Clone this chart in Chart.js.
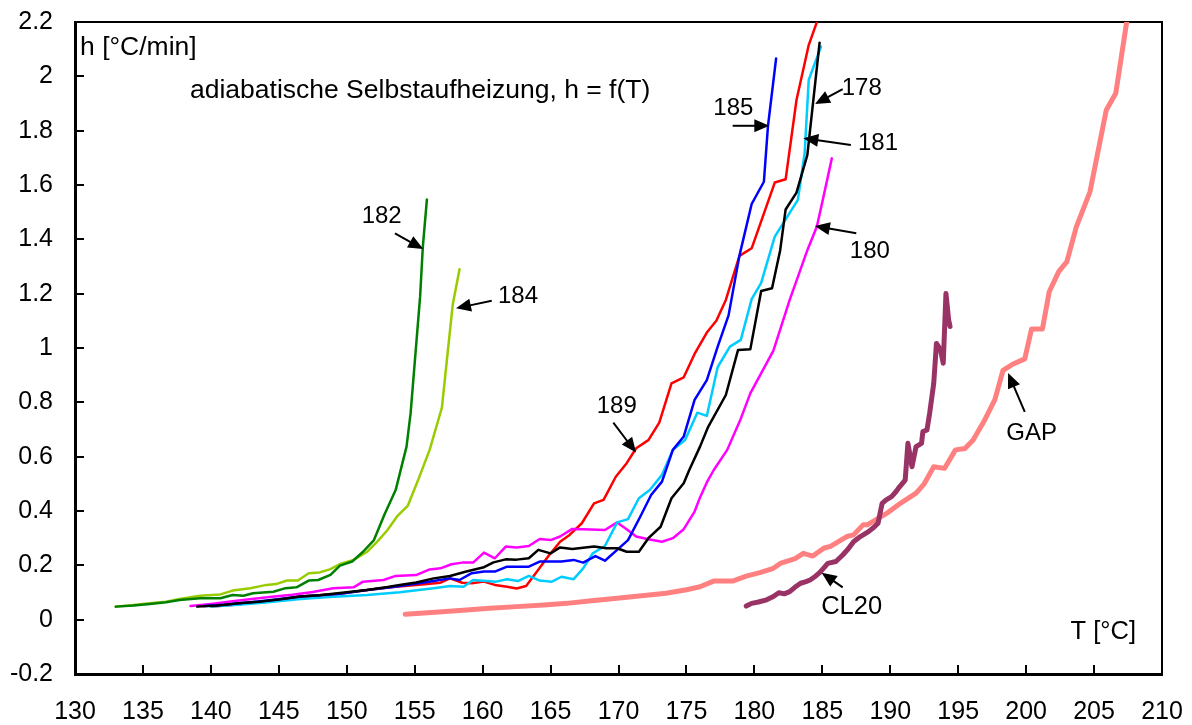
<!DOCTYPE html>
<html>
<head>
<meta charset="utf-8">
<script src="https://cdn.jsdelivr.net/npm/chart.js@4.4.1/dist/chart.umd.min.js"></script>
<style>
  html, body { margin: 0; padding: 0; background: #ffffff; }
  #wrap { width: 1192px; height: 725px; }
</style>
</head>
<body>
<div id="wrap"><canvas id="c" width="1192" height="725"></canvas></div>
<script>
// Axis ticks
const xTicks = [130, 135, 140, 145, 150, 155, 160, 165, 170, 175, 180, 185, 190, 195, 200, 205, 210];
const xTickLabels = ['130', '135', '140', '145', '150', '155', '160', '165', '170', '175', '180', '185', '190', '195', '200', '205', '210'];
const yTicks = [-0.2, 0, 0.2, 0.4, 0.6, 0.8, 1, 1.2, 1.4, 1.6, 1.8, 2, 2.2];
const yTickLabels = ['-0.2', '0', '0.2', '0.4', '0.6', '0.8', '1', '1.2', '1.4', '1.6', '1.8', '2', '2.2'];

// Heating rate h [°C/min] against temperature T [°C], one pair of arrays per sample
const t182 = [133.0, 134.3, 135.5, 136.7, 137.7, 139.2, 140.7, 141.6, 142.4, 143.1, 144.6, 145.5, 146.3, 147.2, 147.9, 148.8, 149.5, 150.4, 151.2, 152.0, 152.8, 153.6, 154.4, 154.7, 155.0, 155.4, 155.6, 155.9];
const h182 = [0.048, 0.052, 0.058, 0.064, 0.072, 0.079, 0.079, 0.091, 0.088, 0.097, 0.103, 0.116, 0.119, 0.144, 0.146, 0.165, 0.199, 0.214, 0.25, 0.293, 0.39, 0.477, 0.637, 0.76, 0.944, 1.19, 1.373, 1.547];

const t184 = [133.0, 134.3, 135.5, 136.7, 137.7, 139.2, 140.7, 141.6, 142.9, 144.1, 144.8, 145.6, 146.4, 147.2, 148.0, 148.8, 149.5, 150.5, 151.5, 152.3, 153.0, 153.7, 154.5, 155.3, 156.1, 157.0, 157.4, 157.8, 158.3];
const h184 = [0.048, 0.054, 0.06, 0.066, 0.076, 0.088, 0.093, 0.107, 0.116, 0.128, 0.131, 0.144, 0.144, 0.171, 0.174, 0.186, 0.205, 0.22, 0.25, 0.29, 0.33, 0.38, 0.42, 0.52, 0.625, 0.78, 0.97, 1.16, 1.29];

const t178 = [139.0, 140.5, 142.0, 143.5, 145.0, 146.6, 148.0, 149.5, 151.5, 153.0, 153.9, 155.1, 156.4, 157.6, 158.8, 160.1, 160.8, 161.7, 162.5, 163.4, 164.1, 165.0, 165.7, 166.6, 168.2, 169.1, 169.9, 170.6, 171.5, 172.2, 173.1, 173.9, 174.8, 175.2, 176.0, 176.6, 177.9, 178.8, 179.7, 180.5, 181.3, 181.9, 182.3, 183.1, 183.9, 184.8];
const h178 = [0.048, 0.052, 0.06, 0.066, 0.074, 0.085, 0.09, 0.098, 0.109, 0.12, 0.128, 0.137, 0.152, 0.161, 0.177, 0.193, 0.211, 0.222, 0.221, 0.226, 0.257, 0.244, 0.266, 0.26, 0.269, 0.263, 0.263, 0.25, 0.25, 0.30, 0.342, 0.447, 0.502, 0.55, 0.637, 0.71, 0.827, 0.993, 0.995, 1.21, 1.22, 1.36, 1.51, 1.572, 1.711, 2.124];

const t185 = [139.5, 141.0, 142.5, 144.0, 146.6, 148.0, 149.5, 151.5, 153.4, 154.8, 156.4, 157.6, 158.3, 159.2, 160.1, 160.9, 161.8, 163.4, 164.2, 165.8, 166.7, 167.4, 168.3, 169.0, 169.9, 170.7, 171.6, 172.4, 173.2, 174.0, 174.8, 175.6, 176.5, 177.3, 178.1, 178.9, 179.8, 180.7, 181.0, 181.6];
const h185 = [0.05, 0.055, 0.062, 0.07, 0.085, 0.09, 0.095, 0.109, 0.12, 0.13, 0.142, 0.152, 0.146, 0.171, 0.177, 0.177, 0.195, 0.195, 0.214, 0.214, 0.22, 0.21, 0.234, 0.217, 0.257, 0.293, 0.379, 0.459, 0.508, 0.625, 0.674, 0.809, 0.882, 1.005, 1.12, 1.34, 1.53, 1.612, 1.817, 2.066];

const t181 = [140.0, 142.0, 144.0, 146.6, 149.0, 151.5, 153.9, 156.4, 157.6, 158.6, 159.3, 161.0, 161.8, 162.6, 163.4, 164.2, 165.1, 165.8, 166.7, 167.4, 168.1, 169.0, 169.9, 170.7, 171.5, 172.3, 173.2, 174.0, 174.9, 175.8, 176.5, 177.3, 178.2, 179.0, 179.8, 180.5, 181.5, 183.2, 183.7, 184.0, 184.9];
const h181 = [0.048, 0.055, 0.063, 0.076, 0.084, 0.091, 0.101, 0.116, 0.124, 0.121, 0.146, 0.14, 0.149, 0.142, 0.161, 0.144, 0.14, 0.158, 0.149, 0.189, 0.244, 0.271, 0.358, 0.37, 0.447, 0.477, 0.533, 0.625, 0.661, 0.762, 0.75, 0.93, 1.005, 1.03, 1.18, 1.24, 1.41, 1.545, 1.717, 1.987, 2.109];

const t180 = [138.5, 140.0, 141.6, 143.0, 144.5, 146.0, 147.5, 149.0, 150.5, 151.2, 152.7, 153.6, 155.1, 156.1, 156.9, 157.7, 158.5, 159.3, 160.1, 160.9, 161.7, 162.5, 163.4, 164.2, 165.0, 165.7, 166.6, 167.4, 169.0, 169.9, 170.6, 171.3, 172.2, 173.2, 174.0, 174.8, 175.6, 176.0, 176.5, 177.0, 178.0, 179.0, 179.7, 181.4, 182.6, 183.9, 184.6, 185.1, 185.7];
const h180 = [0.05, 0.058, 0.068, 0.076, 0.084, 0.092, 0.102, 0.116, 0.119, 0.14, 0.146, 0.161, 0.164, 0.185, 0.189, 0.204, 0.21, 0.21, 0.247, 0.226, 0.269, 0.266, 0.271, 0.297, 0.293, 0.306, 0.334, 0.333, 0.33, 0.358, 0.333, 0.306, 0.296, 0.287, 0.3, 0.333, 0.398, 0.45, 0.505, 0.55, 0.625, 0.74, 0.833, 0.99, 1.177, 1.36, 1.447, 1.56, 1.698];

const t189 = [140.1, 141.5, 143.0, 144.5, 146.6, 148.0, 149.5, 151.5, 153.4, 155.1, 156.9, 157.6, 158.5, 159.2, 160.1, 160.9, 161.8, 162.5, 163.2, 164.0, 164.9, 165.7, 166.4, 167.3, 168.2, 168.9, 169.8, 170.6, 171.3, 172.2, 173.0, 173.9, 174.8, 175.6, 176.5, 177.2, 177.9, 178.9, 179.8, 181.5, 182.3, 183.1, 184.0, 184.6];
const h189 = [0.048, 0.054, 0.062, 0.07, 0.085, 0.09, 0.095, 0.109, 0.12, 0.128, 0.136, 0.152, 0.136, 0.134, 0.14, 0.128, 0.121, 0.115, 0.124, 0.177, 0.238, 0.287, 0.312, 0.355, 0.428, 0.441, 0.526, 0.576, 0.631, 0.661, 0.725, 0.87, 0.892, 0.978, 1.057, 1.1, 1.177, 1.339, 1.367, 1.609, 1.621, 1.913, 2.115, 2.2];

const tCL20 = [179.4, 179.8, 180.3, 180.9, 181.4, 181.8, 182.2, 182.6, 183.0, 183.4, 183.8, 184.1, 184.5, 184.8, 185.1, 185.4, 186.0, 186.5, 186.9, 187.3, 187.8, 188.1, 188.4, 188.8, 189.1, 189.4, 189.7, 190.1, 190.4, 190.7, 191.1, 191.3, 191.6, 191.9, 192.3, 192.4, 192.7, 192.9, 193.2, 193.4, 193.7, 193.9, 194.1, 194.3, 194.4];
const hCL20 = [0.05, 0.06, 0.065, 0.073, 0.085, 0.099, 0.095, 0.103, 0.12, 0.134, 0.14, 0.146, 0.16, 0.173, 0.19, 0.207, 0.214, 0.238, 0.26, 0.287, 0.306, 0.315, 0.324, 0.34, 0.355, 0.428, 0.441, 0.453, 0.47, 0.49, 0.514, 0.649, 0.563, 0.637, 0.649, 0.692, 0.698, 0.76, 0.87, 1.017, 0.993, 0.944, 1.201, 1.103, 1.079];

const tGAP = [154.3, 156.5, 158.8, 160.5, 162.5, 164.5, 166.2, 168.0, 169.9, 171.7, 173.5, 175.0, 176.0, 177.0, 178.4, 179.4, 180.4, 181.4, 181.9, 183.0, 183.6, 184.3, 185.1, 185.6, 186.8, 187.3, 188.0, 188.3, 189.7, 190.8, 191.9, 192.5, 193.2, 194.0, 194.8, 195.5, 196.1, 196.9, 197.7, 198.3, 199.0, 199.9, 200.4, 201.2, 201.7, 202.4, 203.0, 203.7, 204.7, 205.9, 206.6, 207.4];
const hGAP = [0.02, 0.027, 0.036, 0.042, 0.048, 0.054, 0.06, 0.07, 0.079, 0.088, 0.097, 0.11, 0.121, 0.142, 0.142, 0.16, 0.173, 0.189, 0.207, 0.225, 0.244, 0.234, 0.263, 0.27, 0.306, 0.312, 0.349, 0.349, 0.39, 0.43, 0.466, 0.50, 0.563, 0.557, 0.625, 0.63, 0.661, 0.73, 0.81, 0.918, 0.94, 0.96, 1.07, 1.07, 1.207, 1.281, 1.318, 1.447, 1.575, 1.876, 1.938, 2.2];

const FONT = '"Liberation Sans", Arial, Helvetica, sans-serif';

function pairs(ts, hs) {
  const n = Math.min(ts.length, hs.length);
  const out = [];
  for (let i = 0; i < n; i++) out.push({ x: ts[i], y: hs[i] });
  return out;
}

function series(label, ts, hs, color, width) {
  return {
    label: label,
    data: pairs(ts, hs),
    showLine: true,
    borderColor: color,
    backgroundColor: color,
    borderWidth: width,
    pointRadius: 0,
    pointHoverRadius: 0,
    tension: 0,
    fill: false,
    borderJoinStyle: 'round',
    borderCapStyle: 'round'
  };
}

// Sample names with arrows pointing at their curves (positions in data units)
const callouts = [
  { text: '185', size: 24, at: [178.45, 1.882], from: [178.4, 1.818], to: [181.1, 1.818] },
  { text: '178', size: 24, at: [187.9, 1.956], from: [186.5, 1.953], to: [184.46, 1.898] },
  { text: '181', size: 24, at: [189.1, 1.754], from: [187.1, 1.747], to: [183.6, 1.772] },
  { text: '180', size: 24, at: [188.5, 1.355], from: [187.5, 1.422], to: [184.45, 1.449] },
  { text: '182', size: 24, at: [152.57, 1.483], from: [153.55, 1.422], to: [155.63, 1.364] },
  { text: '184', size: 24, at: [162.6, 1.19], from: [160.67, 1.174], to: [158.04, 1.146] },
  { text: '189', size: 24, at: [169.87, 0.784], from: [169.62, 0.725], to: [171.29, 0.615] },
  { text: 'GAP', size: 24, at: [200.4, 0.687], from: [199.9, 0.765], to: [198.67, 0.908] },
  { text: 'CL20', size: 25.5, at: [187.16, 0.048], from: [186.5, 0.119], to: [184.95, 0.173] }
];

// Free text inside the plot frame
const captions = [
  { text: 'h [°C/min]', size: 26.5, at: [130.37, 2.104], align: 'left' },
  { text: 'adiabatische Selbstaufheizung, h = f(T)', size: 26.5, at: [138.46, 1.946], align: 'left' },
  { text: 'T [°C]', size: 25.5, at: [205.68, -0.044], align: 'center' }
];

const calloutPlugin = {
  id: 'callouts',
  afterDatasetsDraw(chart) {
    const ctx = chart.ctx;
    const xs = chart.scales.x, ys = chart.scales.y;
    const px = v => xs.getPixelForValue(v);
    const py = v => ys.getPixelForValue(v);
    ctx.save();
    ctx.fillStyle = '#000000';
    ctx.strokeStyle = '#000000';
    ctx.textBaseline = 'middle';

    captions.forEach(c => {
      ctx.font = c.size + 'px ' + FONT;
      ctx.textAlign = c.align;
      ctx.fillText(c.text, px(c.at[0]), py(c.at[1]));
    });

    callouts.forEach(c => {
      ctx.font = c.size + 'px ' + FONT;
      ctx.textAlign = 'center';
      ctx.fillText(c.text, px(c.at[0]), py(c.at[1]));
      const x1 = px(c.from[0]), y1 = py(c.from[1]);
      const x2 = px(c.to[0]), y2 = py(c.to[1]);
      const dx = x2 - x1, dy = y2 - y1;
      const len = Math.hypot(dx, dy) || 1;
      const ux = dx / len, uy = dy / len;
      const head = 15, half = 6.5;
      const bx = x2 - ux * head, by = y2 - uy * head;
      ctx.lineWidth = 2;
      ctx.beginPath();
      ctx.moveTo(x1, y1);
      ctx.lineTo(bx + ux * 2, by + uy * 2);
      ctx.stroke();
      ctx.beginPath();
      ctx.moveTo(x2, y2);
      ctx.lineTo(bx - uy * half, by + ux * half);
      ctx.lineTo(bx + uy * half, by - ux * half);
      ctx.closePath();
      ctx.fill();
    });
    ctx.restore();
  }
};

// Tick labels may overhang the frame; keep them from shrinking the plot area
function noOverhang(scale) {
  scale.paddingLeft = 0;
  scale.paddingRight = 0;
  scale.paddingTop = 0;
  scale.paddingBottom = 0;
}

const frameAxis = (position) => ({
  type: 'linear',
  position: position,
  display: true,
  min: 0,
  max: 1,
  ticks: { display: false },
  grid: { display: true, drawOnChartArea: false, drawTicks: false, color: 'rgba(0,0,0,0)' },
  border: { display: true, color: '#000000', width: 2 },
  afterFit(scale) {
    if (position === 'top') scale.height = 0; else scale.width = 0;
    noOverhang(scale);
  }
});

new Chart(document.getElementById('c'), {
  type: 'scatter',
  data: {
    datasets: [
      series('182', t182, h182, '#008000', 2.5),
      series('184', t184, h184, '#99cc00', 2.5),
      series('178', t178, h178, '#000000', 2.5),
      series('185', t185, h185, '#0000ff', 2.5),
      series('181', t181, h181, '#00ccff', 2.5),
      series('180', t180, h180, '#ff00ff', 2.5),
      series('189', t189, h189, '#ff0000', 2.5),
      series('CL20', tCL20, hCL20, '#993366', 5),
      series('GAP', tGAP, hGAP, '#ff8080', 5)
    ]
  },
  options: {
    responsive: false,
    animation: false,
    events: [],
    layout: { padding: { top: 22, right: 30, left: 0, bottom: 0 } },
    plugins: {
      legend: { display: false },
      tooltip: { enabled: false }
    },
    scales: {
      x: {
        type: 'linear',
        position: 'bottom',
        min: 130,
        max: 210,
        afterBuildTicks(scale) { scale.ticks = xTicks.map(v => ({ value: v })); },
        afterFit(scale) { scale.height = 51; noOverhang(scale); },
        ticks: {
          color: '#000000',
          font: { family: FONT, size: 25 },
          padding: 32,
          maxRotation: 0,
          autoSkip: false,
          callback: (v, i) => xTickLabels[i]
        },
        grid: { drawOnChartArea: false, drawTicks: true, tickLength: -9, color: '#000000', lineWidth: 2 },
        border: { display: true, color: '#000000', width: 3 }
      },
      y: {
        type: 'linear',
        position: 'left',
        min: -0.2,
        max: 2.2,
        afterBuildTicks(scale) { scale.ticks = yTicks.map(v => ({ value: v })); },
        afterFit(scale) { scale.width = 75; noOverhang(scale); },
        ticks: {
          color: '#000000',
          font: { family: FONT, size: 25 },
          padding: 31,
          autoSkip: false,
          callback: (v, i) => yTickLabels[i]
        },
        grid: { drawOnChartArea: false, drawTicks: true, tickLength: -9, color: '#000000', lineWidth: 2 },
        border: { display: true, color: '#000000', width: 3 }
      },
      xTop: frameAxis('top'),
      yRight: frameAxis('right')
    }
  },
  plugins: [calloutPlugin]
});
</script>
</body>
</html>
